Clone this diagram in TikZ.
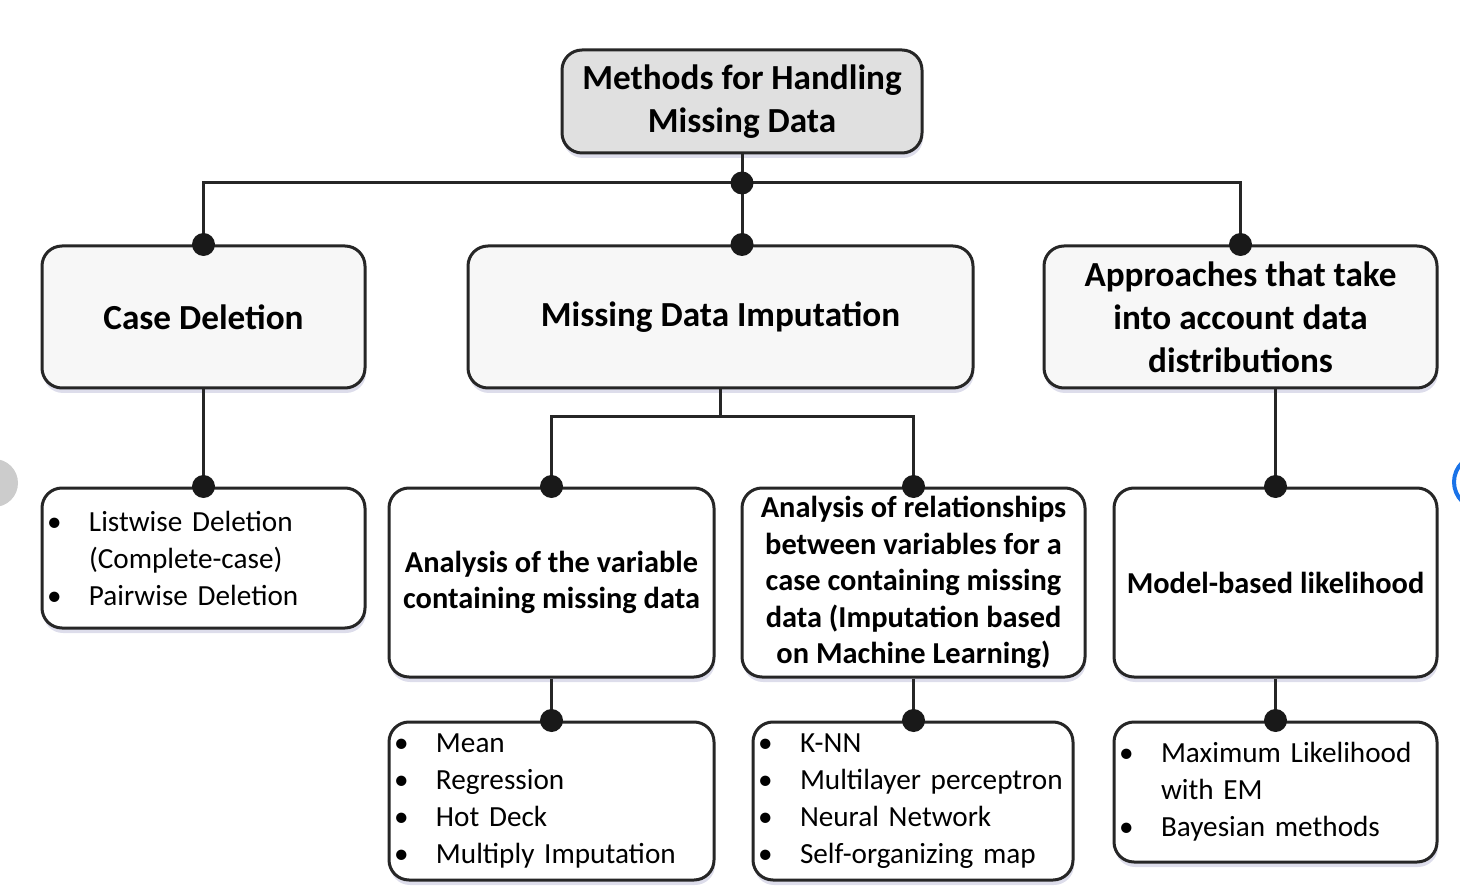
\documentclass[tikz,border=0pt]{standalone}
\usepackage{fontspec}
\setmainfont{Carlito}
\usetikzlibrary{shadows}
\newcommand{\bitem}[1]{\makebox[21pt][l]{\textbullet}\mbox{#1}}
\newcommand{\bcont}[1]{\hspace*{21pt}\mbox{#1}}
\begin{document}
\begin{tikzpicture}[x=0.5pt,y=-0.5pt,
  box/.style={draw=black!85, line width=1.5pt, rounded corners=10pt, align=center, inner sep=0pt,
    drop shadow={shadow xshift=0.5pt, shadow yshift=-2.5pt, opacity=0.35, fill=blue!25!gray!60}},
  rootbox/.style={box, fill=gray!24, font=\bfseries\fontsize{17.6}{21.5}\selectfont},
  lvlone/.style={box, fill=gray!6, font=\bfseries\fontsize{17.6}{21.5}\selectfont},
  lvltwo/.style={box, fill=white, font=\bfseries\fontsize{15.2}{18.2}\selectfont},
  listbox/.style={box, fill=white, align=left, font=\fontsize{14.6}{18.5}\selectfont, inner xsep=2.5pt},
  dot/.style={circle, fill=black!90, inner sep=0pt, minimum size=11.5pt},
  conn/.style={line width=1.5pt, draw=black!85}]
\useasboundingbox (0,0) rectangle (1460,892);
% screenshot artifacts at the edges
\fill[gray!40] (-6,483) circle (24);
\draw[line width=2pt, color={rgb,255:red,26;green,115;blue,232}] (1481,482) circle (27);

% boxes
\node[rootbox, minimum width=180pt, minimum height=51.5pt] (root) at (742,101.5) {Methods for Handling\\Missing Data};
\node[lvlone, minimum width=161.5pt, minimum height=71pt] (cd) at (203.5,317) {Case Deletion};
\node[lvlone, minimum width=252.5pt, minimum height=71pt] (mdi) at (720.5,317) {Missing Data Imputation};
\node[lvlone, minimum width=196.5pt, minimum height=71pt] (ap) at (1240.5,317) {Approaches that take\\into account data\\distributions};

\node[listbox, text width=156.5pt, minimum height=70pt] (lone) at (203.5,558)
  {\bitem{Listwise Deletion}\\\bcont{(Complete-case)}\\\bitem{Pairwise Deletion}};
\node[lvltwo, minimum width=162.5pt, minimum height=94.5pt] (av) at (551.5,582.5) {Analysis of the variable\\containing missing data};
\node[lvltwo, minimum width=171.5pt, minimum height=94.5pt] (ar) at (913.5,582.5) {Analysis of relationships\\between variables for a\\case containing missing\\data (Imputation based\\on Machine Learning)};
\node[lvltwo, minimum width=161.5pt, minimum height=94.5pt] (mb) at (1275.5,582.5) {Model-based likelihood};

\node[listbox, text width=157.5pt, minimum height=79pt] (mean) at (551.5,801)
  {\bitem{Mean}\\\bitem{Regression}\\\bitem{Hot Deck}\\\bitem{Multiply Imputation}};
\node[listbox, text width=155pt, minimum height=79pt] (knn) at (913,801)
  {\bitem{K-NN}\\\bitem{Multilayer perceptron}\\\bitem{Neural Network}\\\bitem{Self-organizing map}};
\node[listbox, text width=156.5pt, minimum height=70pt] (ml) at (1275.5,792)
  {\bitem{Maximum Likelihood}\\\bcont{with EM}\\\bitem{Bayesian methods}};

% connectors
\coordinate (j) at (root.south |- 0,183);
\coordinate (mtop) at (root.south |- mdi.north);
\draw[conn] (root.south) -- (mtop);
\draw[conn] (cd.north) |- (j) -| (ap.north);
\draw[conn] (cd.south) -- (lone.north);
\draw[conn] (mdi.south) -- ++(0,27) coordinate (k);
\draw[conn] (av.north) |- (k) -| (ar.north);
\draw[conn] (mb.north |- ap.south) -- (mb.north);
\draw[conn] (av.south) -- (mean.north);
\draw[conn] (ar.south) -- (ar.south |- knn.north);
\draw[conn] (mb.south) -- (ml.north);

% junction dots
\node[dot] (dj) at (j) {};
\node[dot] (dm) at (mtop) {};
\node[dot] (dcd) at (cd.north) {};
\node[dot] (dap) at (ap.north) {};
\node[dot] (dl) at (lone.north) {};
\node[dot] (dav) at (av.north) {};
\node[dot] (dar) at (ar.north) {};
\node[dot] (dmb) at (mb.north) {};
\node[dot] (dmean) at (mean.north) {};
\node[dot] (dknn) at (ar.south |- knn.north) {};
\node[dot] (dml) at (ml.north) {};
\end{tikzpicture}
\end{document}
